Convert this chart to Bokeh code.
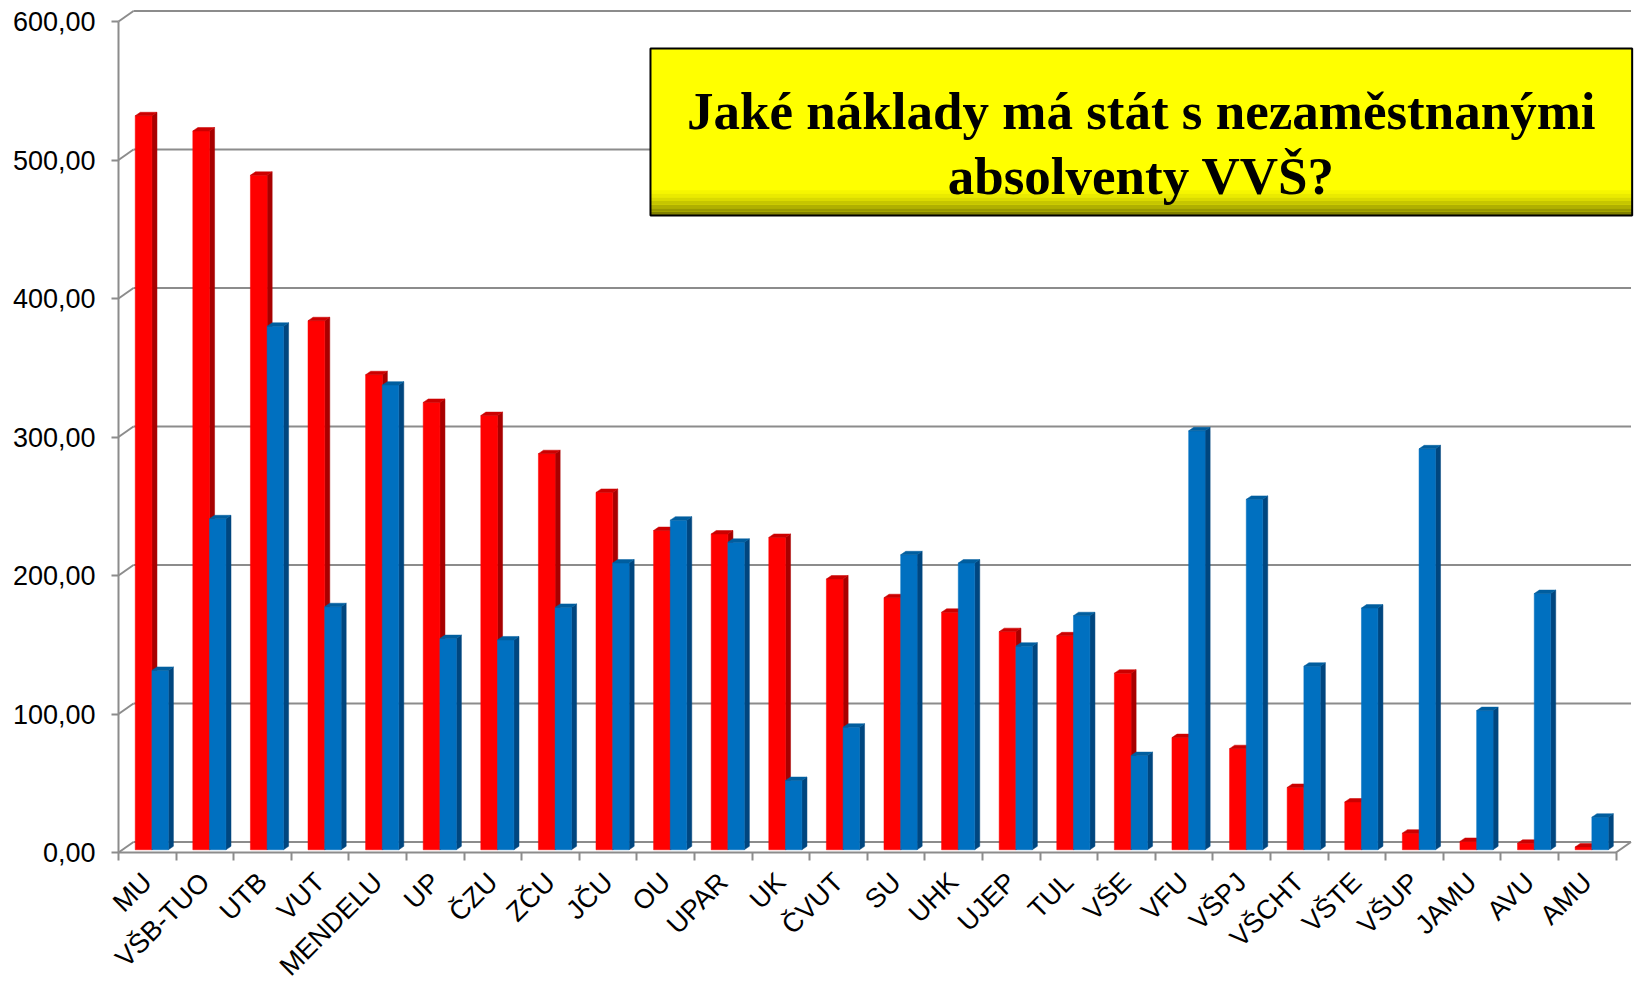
import math
from bokeh.plotting import figure
from bokeh.models import FixedTicker, Range1d, CustomJSTickFormatter
from bokeh.core.properties import value
from bokeh.embed import file_html
from bokeh.resources import INLINE

# ---------------- data ----------------
schools = ["MU", "VŠB-TUO", "UTB", "VUT", "MENDELU", "UP", "ČZU", "ZČU", "JČU", "OU",
           "UPAR", "UK", "ČVUT", "SU", "UHK", "UJEP", "TUL", "VŠE", "VFU", "VŠPJ",
           "VŠCHT", "VŠTE", "VŠUP", "JAMU", "AVU", "AMU"]
red_values = [530, 519, 487, 382, 343, 323, 313.5, 286, 258, 230.5,
              228, 225.5, 195.5, 182, 171.5, 157.5, 154.5, 127.5, 81, 73,
              45, 34.5, 12, 6, 4.7, 2]
blue_values = [129.5, 239, 378, 175.5, 335.5, 152.5, 151.5, 175, 207, 238,
               222, 50, 88.5, 213, 207, 147, 169, 68, 302.5, 253,
               132.5, 174.5, 289.5, 100.5, 185, 23.5]
y_ticks = [0, 100, 200, 300, 400, 500, 600]
title_lines = ["Jaké náklady má stát s nezaměstnanými", "absolventy VVŠ?"]

# ---------------- style / geometry ----------------
N = len(schools)
BASE = 2.0          # bars sit slightly inside the 3D floor
DX = 0.088          # depth offset in category units
DY = 2.5            # depth offset in value units
WALL_DX = 0.26      # back wall offset (x)
WALL_DY = 7.6       # back wall offset (y)
GRID_COLOR = "#8C8C8C"

p = figure(width=1638, height=984,
           x_range=Range1d(-2.049, 26.39), y_range=Range1d(-95.3, 615.2),
           output_backend="svg", toolbar_location=None,
           min_border_left=0, min_border_right=0, min_border_top=0, min_border_bottom=0)
p.xgrid.visible = False
p.ygrid.visible = False
p.outline_line_color = None

# ---- back wall grid lines & side diagonals ----
gx0 = [WALL_DX for _ in y_ticks]
gx1 = [N + WALL_DX for _ in y_ticks]
gy = [t + WALL_DY for t in y_ticks]
p.segment(x0=gx0, y0=gy, x1=gx1, y1=gy, line_color=GRID_COLOR, line_width=2)
p.segment(x0=[0] * len(y_ticks), y0=y_ticks, x1=gx0, y1=gy, line_color=GRID_COLOR, line_width=2)
p.segment(x0=[N], y0=[0], x1=[N + WALL_DX], y1=[WALL_DY], line_color=GRID_COLOR, line_width=2)


def bar_shapes(vals, off0, off1):
    left = [k + off0 for k in range(N)]
    right = [k + off1 for k in range(N)]
    top = [BASE + v for v in vals]
    side_x = [[r, r + DX, r + DX, r] for r in right]
    side_y = [[BASE, BASE + DY, t + DY, t] for t in top]
    top_x = [[l, l + DX, r + DX, r] for l, r in zip(left, right)]
    top_y = [[t, t + DY, t + DY, t] for t in top]
    return left, right, top, side_x, side_y, top_x, top_y


for vals, o0, o1, cf, cs, ct in [
        (red_values, 0.29, 0.58, "#FF0000", "#A80000", "#CC0000"),
        (blue_values, 0.58, 0.865, "#0070C0", "#00467F", "#005E9F")]:
    left, right, top, sx, sy, tx, ty = bar_shapes(vals, o0, o1)
    p.patches(xs=sx, ys=sy, fill_color=cs, line_color=cs, line_width=0.5)
    p.quad(left=left, right=right, bottom=[BASE] * N, top=top,
           fill_color=cf, line_color=cf, line_width=0.5)
    p.patches(xs=tx, ys=ty, fill_color=ct, line_color=ct, line_width=0.5)

# ---- axes ----
p.yaxis.ticker = FixedTicker(ticks=y_ticks, minor_ticks=[])
p.yaxis.bounds = (0, 600)
p.yaxis.fixed_location = 0
p.yaxis.formatter = CustomJSTickFormatter(code="return tick.toFixed(2).replace('.', ',');")
p.yaxis.axis_line_color = GRID_COLOR
p.yaxis.axis_line_width = 2
p.yaxis.major_tick_line_color = GRID_COLOR
p.yaxis.major_tick_line_width = 2
p.yaxis.major_tick_out = 7
p.yaxis.major_tick_in = 0
p.yaxis.major_label_standoff = 16
p.yaxis.major_label_text_font = "Liberation Sans"
p.yaxis.major_label_text_font_size = "27px"
p.yaxis.major_label_text_color = "black"

p.xaxis.ticker = FixedTicker(ticks=[k + 0.5 for k in range(N)], minor_ticks=list(range(N + 1)))
p.xaxis.bounds = (0, N)
p.xaxis.fixed_location = 0
p.xaxis.formatter = CustomJSTickFormatter(args=dict(labels=schools),
                                          code="return labels[Math.floor(tick)];")
p.xaxis.axis_line_color = GRID_COLOR
p.xaxis.axis_line_width = 2
p.xaxis.major_tick_out = 0
p.xaxis.major_tick_in = 0
p.xaxis.minor_tick_line_color = GRID_COLOR
p.xaxis.minor_tick_line_width = 2
p.xaxis.minor_tick_out = 8
p.xaxis.minor_tick_in = 0
p.xaxis.major_label_orientation = math.pi / 4
p.xaxis.major_label_standoff = 17
p.xaxis.major_label_text_font = "Liberation Sans"
p.xaxis.major_label_text_font_size = "27px"
p.xaxis.major_label_text_color = "black"

# ---- title box ----
bx0, bx1, by0, by1 = 9.236, 26.28, 460.0, 580.5
p.quad(left=[bx0], right=[bx1], bottom=[by0], top=[by1], fill_color="#FFFF00", line_color=None)
shade = ["#F6F600", "#EAEA00", "#DADA00", "#C6C600", "#B0B000", "#989800", "#808000"]
sh = 2.6
p.quad(left=[bx0] * len(shade), right=[bx1] * len(shade),
       bottom=[by0 + sh * (len(shade) - 1 - i) for i in range(len(shade))],
       top=[by0 + sh * (len(shade) - i) for i in range(len(shade))],
       fill_color=shade, line_color=None)
p.quad(left=[bx0], right=[bx1], bottom=[by0], top=[by1], fill_color=None,
       line_color="black", line_width=2)
cx = (bx0 + bx1) / 2
p.text(x=[cx, cx], y=[535.7, 488.8], text=title_lines,
       text_font=value("Liberation Serif"), text_font_style="bold",
       text_font_size="53px", text_align="center", text_baseline="alphabetic",
       text_color="black")

open("out.html", "w").write(file_html(p, INLINE))
